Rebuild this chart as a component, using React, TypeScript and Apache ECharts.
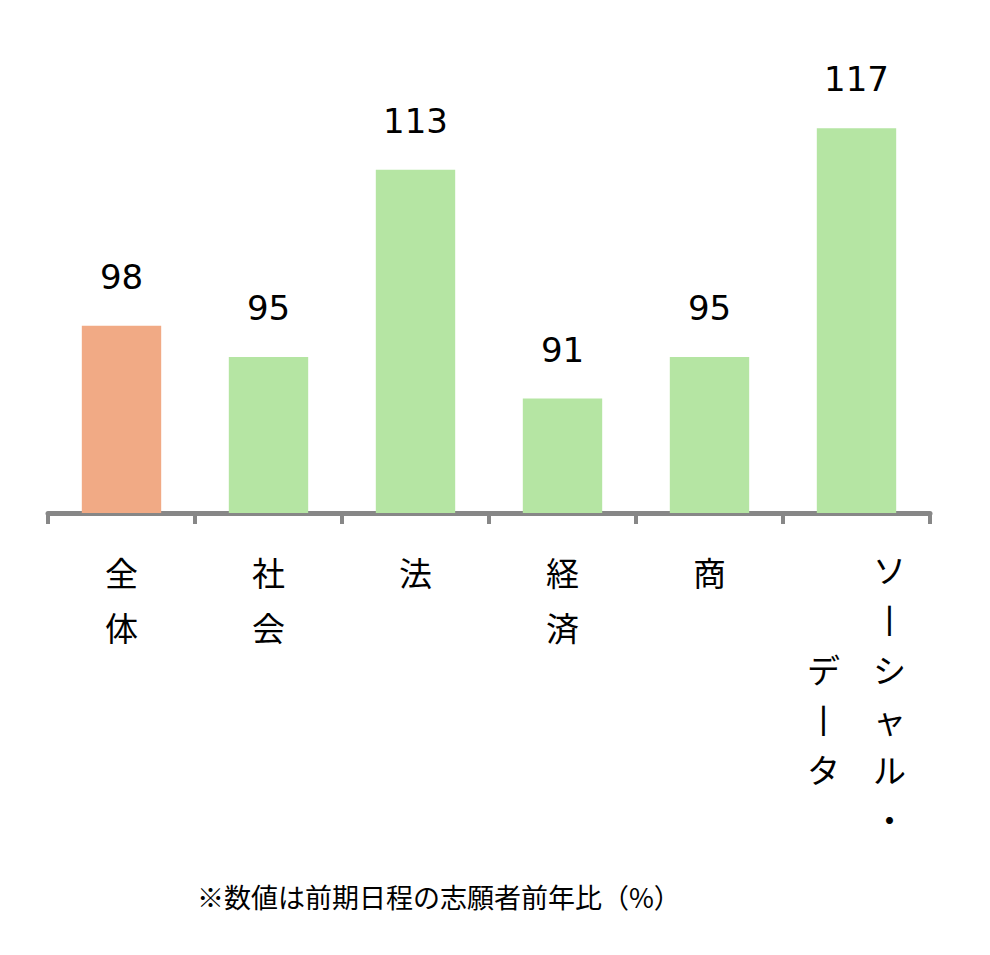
import { useEffect, useRef } from "react";
import * as echarts from "echarts";

const categories = ["全体", "社会", "法", "経済", "商", "ソーシャル・データ"];
const values = [98, 95, 113, 91, 95, 117];

// vertical tick labels (the last one is two columns, read right to left)
const tickLabels = [
  "全\n体",
  "社\n会",
  "法",
  "経\n済",
  "商",
  "　　ソ\n　　丨\nデ　シ\n丨　ャ\nタ　ル\n　　・",
];

const highlightIndex = 0;
const footnote = "※数値は前期日程の志願者前年比（%）";

const ORANGE = "#F1AA85";
const GREEN = "#B5E5A3";
const AXIS_GREY = "#878787";
const JP_FONT = "'Noto Sans CJK JP', 'Noto Sans', sans-serif";

export default function App() {
  const containerRef = useRef<HTMLDivElement | null>(null);

  useEffect(() => {
    const container = containerRef.current;

    if (!container) {
      return;
    }

    const chart = echarts.init(container, null, { renderer: "svg" });

    chart.setOption({
      animation: false,
      backgroundColor: "#ffffff",
      title: {
        text: footnote,
        left: 192,
        top: 878,
        textStyle: {
          fontFamily: JP_FONT,
          fontSize: 27,
          fontWeight: "normal",
          color: "#000000",
        },
      },
      grid: {
        left: 48,
        right: 60,
        top: 97,
        bottom: 442,
        containLabel: false,
      },
      xAxis: {
        type: "category",
        data: categories,
        axisLine: {
          show: true,
          lineStyle: { color: AXIS_GREY, width: 5 },
        },
        axisTick: {
          show: true,
          length: 11,
          lineStyle: { color: AXIS_GREY, width: 4 },
        },
        axisLabel: {
          margin: 31,
          interval: 0,
          color: "#000000",
          fontFamily: JP_FONT,
          fontSize: 33,
          lineHeight: 55,
          align: "center",
          verticalAlign: "top",
          formatter: (_value: string, index: number) => {
            const label = tickLabels[index];
            return index === tickLabels.length - 1
              ? `{two|${label}}`
              : label;
          },
          rich: {
            two: {
              fontFamily: JP_FONT,
              fontSize: 33,
              lineHeight: 50,
              color: "#000000",
            },
          },
        },
      },
      yAxis: {
        type: "value",
        min: 80,
        max: 120,
        show: false,
        splitLine: { show: false },
      },
      series: [
        {
          type: "bar",
          barWidth: "54%",
          data: values.map((value, index) => ({
            value,
            itemStyle: {
              color: index === highlightIndex ? ORANGE : GREEN,
            },
          })),
          label: {
            show: true,
            position: "top",
            distance: 32,
            fontFamily: "'DejaVu Sans', Verdana, sans-serif",
            fontSize: 34,
            color: "#000000",
          },
        },
      ],
    });

    return () => {
      chart.dispose();
    };
  }, []);

  return (
    <div
      ref={containerRef}
      style={{
        position: "fixed",
        left: 0,
        top: 0,
        width: 990,
        height: 955,
        background: "#ffffff",
      }}
    />
  );
}
